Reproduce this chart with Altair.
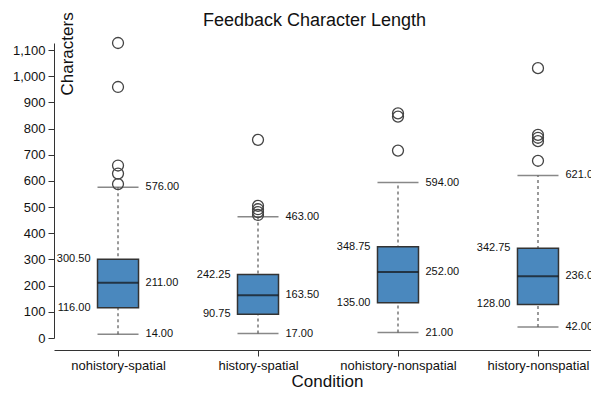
import altair as alt
import pandas as pd

conditions = ["nohistory-spatial", "history-spatial", "nohistory-nonspatial", "history-nonspatial"]
lower_whisker = [14.0, 17.0, 21.0, 42.0]
q1 = [116.0, 90.75, 135.0, 128.0]
median = [211.0, 163.5, 252.0, 236.0]
q3 = [300.5, 242.25, 348.75, 342.75]
upper_whisker = [576.0, 463.0, 594.0, 621.0]

outlier_condition = (["nohistory-spatial"] * 5 + ["history-spatial"] * 5
                     + ["nohistory-nonspatial"] * 3 + ["history-nonspatial"] * 5)
outlier_value = [1127, 959, 659, 628, 588,
                 757, 505, 492, 481, 470,
                 858, 846, 716,
                 1031, 776, 765, 752, 677]

stats = pd.DataFrame({
    "Condition": conditions,
    "lower": lower_whisker,
    "q1": q1,
    "median": median,
    "q3": q3,
    "upper": upper_whisker,
})
outliers = pd.DataFrame({"Condition": outlier_condition, "value": outlier_value})

left_labels = pd.DataFrame({
    "Condition": conditions * 2,
    "v": q3 + q1,
})
right_labels = pd.DataFrame({
    "Condition": conditions * 3,
    "v": median + upper_whisker + lower_whisker,
})

BOX_W = 41
xscale = alt.Scale(type="point", domain=conditions, padding=0.418, align=0.547)
yscale = alt.Scale(domain=[0, 1127], nice=False, zero=False)

x_axis = alt.Axis(title="Condition", offset=12, labelAngle=0,
                  labelFontSize=13, tickSize=6, labelPadding=3,
                  titleFontSize=17, titleFontWeight="normal",
                  titleX=273, titleY=36, titleBaseline="alphabetic",
                  domainColor="#333", tickColor="#333",
                  labelColor="#111", titleColor="#111")
y_axis = alt.Axis(title="Characters", values=list(range(0, 1101, 100)),
                  labelExpr="format(datum.value, ',')",
                  labelFontSize=13, tickSize=6, labelPadding=3, grid=False,
                  titleFontSize=17, titleFontWeight="normal",
                  titleAngle=270, titleX=18.5, titleY=52, titleAlign="left",
                  titleBaseline="alphabetic",
                  domainColor="#333", tickColor="#333",
                  labelColor="#111", titleColor="#111")


def X():
    return alt.X("Condition:N", scale=xscale, sort=conditions, axis=x_axis)


def Y(field):
    return alt.Y(field, scale=yscale, axis=y_axis)


base = alt.Chart(stats)

whisker = base.mark_rule(color="#999", strokeWidth=2, strokeDash=[3, 3]).encode(
    x=X(), y=Y("lower:Q"), y2="upper:Q",
)
caps_low = base.mark_tick(size=BOX_W, thickness=1.5, color="#555").encode(
    x=X(), y=Y("lower:Q"),
)
caps_up = base.mark_tick(size=BOX_W, thickness=1.5, color="#555").encode(
    x=X(), y=Y("upper:Q"),
)
box = base.mark_bar(size=BOX_W, color="#4a88be", stroke="#333", strokeWidth=1.5).encode(
    x=X(), y=Y("q1:Q"), y2="q3:Q",
)
med = base.mark_tick(size=BOX_W, thickness=2, color="#111").encode(
    x=X(), y=Y("median:Q"),
)
pts = alt.Chart(outliers).mark_point(shape="circle", size=120, filled=False,
                                     stroke="#444", strokeWidth=1.3, opacity=1).encode(
    x=X(), y=Y("value:Q"),
)
ltxt = alt.Chart(left_labels).mark_text(align="right", baseline="middle", dx=-(BOX_W / 2 + 7),
                                       fontSize=11, color="#111").encode(
    x=X(), y=Y("v:Q"), text=alt.Text("v:Q", format=".2f"),
)
rtxt = alt.Chart(right_labels).mark_text(align="left", baseline="middle", dx=(BOX_W / 2 + 7),
                                        fontSize=11, color="#111").encode(
    x=X(), y=Y("v:Q"), text=alt.Text("v:Q", format=".2f"),
)

chart = alt.layer(whisker, caps_low, caps_up, box, med, pts, ltxt, rtxt).properties(
    width=537,
    height=295,
    title=alt.TitleParams("Feedback Character Length", fontSize=18, fontWeight="normal",
                          anchor="middle", frame="group", offset=0,
                          baseline="alphabetic", dx=-8, dy=32, color="#111"),
    autosize=alt.AutoSizeParams(type="none"),
    padding={"left": 46, "top": 35, "right": 0, "bottom": 51},
).configure(font="Liberation Sans").configure_view(stroke=None)

chart.save("out.html", embed_options={"renderer": "svg", "actions": False})
